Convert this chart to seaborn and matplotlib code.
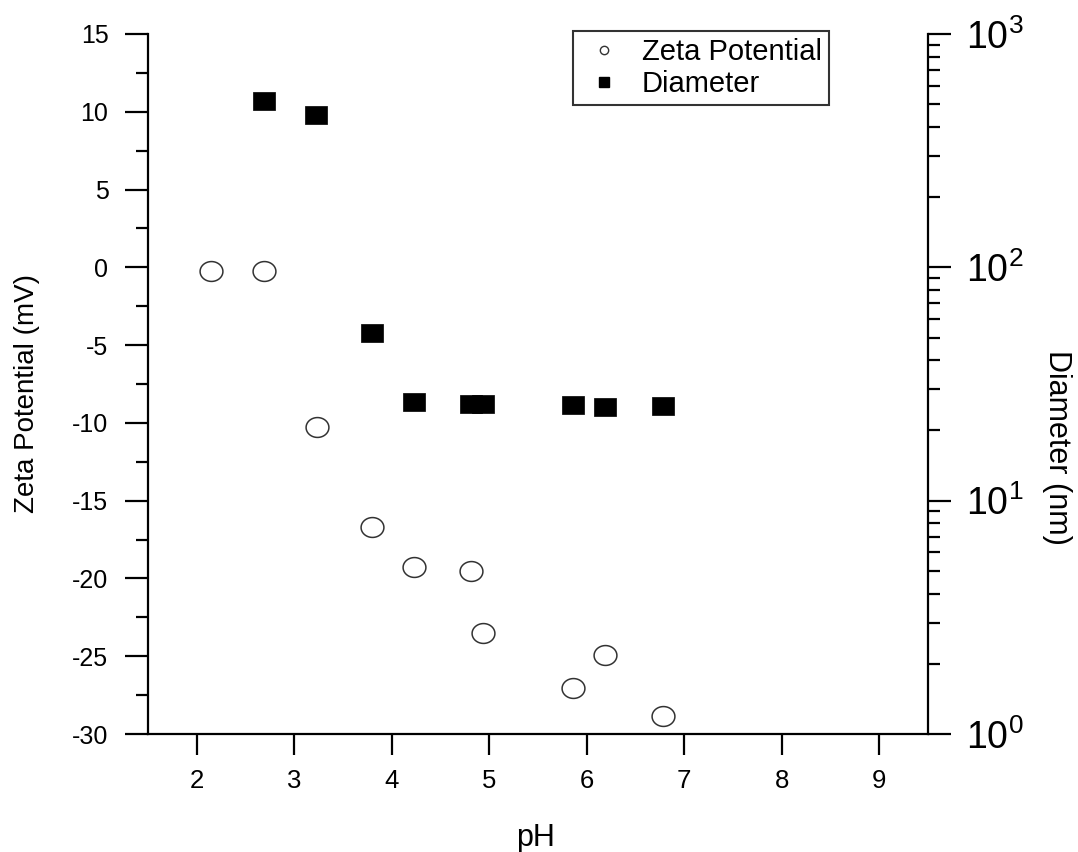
import numpy as np
import pandas as pd
import matplotlib
matplotlib.use("Agg")
import matplotlib.pyplot as plt
from matplotlib.path import Path
from matplotlib.lines import Line2D
from matplotlib.ticker import MultipleLocator, LogLocator, NullFormatter
import seaborn as sns

# ---- data ----
ph_zeta = [2.15, 2.69, 3.23, 3.80, 4.23, 4.81, 4.94, 5.86, 6.19, 6.78]
zeta_mv = [-0.24, -0.24, -10.26, -16.7, -19.26, -19.5, -23.5, -27.04, -24.92, -28.84]
ph_diam = [2.69, 3.22, 3.80, 4.23, 4.81, 4.94, 5.86, 6.19, 6.78]
diam_nm = [516, 450, 52.3, 26.5, 26.0, 26.0, 25.7, 25.2, 25.5]
x_ticks = [2, 3, 4, 5, 6, 7, 8, 9]
zeta_ticks = [15, 10, 5, 0, -5, -10, -15, -20, -25, -30]
diam_ticks = [1, 10, 100, 1000]
diam_tick_labels = [r"$\mathregular{10^{0}}$", r"$\mathregular{10^{1}}$",
                    r"$\mathregular{10^{2}}$", r"$\mathregular{10^{3}}$"]
series_names = ["Zeta Potential", "Diameter"]

sns.set_style("ticks")
plt.rcParams["font.family"] = ["Liberation Sans", "DejaVu Sans"]
plt.rcParams["mathtext.fontset"] = "custom"
plt.rcParams["mathtext.rm"] = "Liberation Sans"
plt.rcParams["axes.unicode_minus"] = False
for k in ("text.color", "axes.labelcolor", "xtick.color", "ytick.color", "xtick.labelcolor", "ytick.labelcolor"):
    plt.rcParams[k] = "black"

df_z = pd.DataFrame({"pH": ph_zeta, "zeta": zeta_mv})
df_d = pd.DataFrame({"pH": ph_diam, "diam": diam_nm})

# elliptical / rectangular markers as in the reference
t = np.linspace(0, 2 * np.pi, 60)
ell = Path(np.column_stack([np.cos(t), 0.87 * np.sin(t)]), closed=True)
rect = Path([(-1, -0.86), (1, -0.86), (1, 0.86), (-1, 0.86), (-1, -0.86)], closed=True)

fig = plt.figure(figsize=(10.78, 8.52), dpi=100)
ax = fig.add_axes([148 / 1078, 1 - 734 / 852, 780 / 1078, 700 / 852])
ax2 = ax.twinx()

sns.scatterplot(data=df_z, x="pH", y="zeta", ax=ax, marker=ell, s=270,
                facecolor="white", edgecolor="#333333", linewidth=1.1, zorder=3)
sns.scatterplot(data=df_d, x="pH", y="diam", ax=ax2, marker=rect, s=240,
                color="black", edgecolor="black", linewidth=0.5, zorder=3)

ax.set_xlim(1.5, 9.5)
ax.set_ylim(-30, 15)
ax2.set_yscale("log")
ax2.set_ylim(1, 1000)

ax.set_xticks(x_ticks)
ax.set_yticks(zeta_ticks)
ax.yaxis.set_minor_locator(MultipleLocator(2.5))
ax2.set_yticks(diam_ticks)
ax2.set_yticklabels(diam_tick_labels)
ax2.yaxis.set_minor_locator(LogLocator(base=10, subs=np.arange(2, 10), numticks=20))
ax2.yaxis.set_minor_formatter(NullFormatter())

for a in (ax, ax2):
    a.spines["top"].set_visible(False)
    for s in a.spines.values():
        s.set_linewidth(1.6)
        s.set_color("black")
ax.spines["right"].set_visible(False)
ax2.spines["left"].set_visible(False)
ax2.spines["bottom"].set_visible(False)

ax.tick_params(axis="y", which="major", direction="out", length=16.5, width=1.6,
               labelsize=18, pad=12, colors="black")
ax.tick_params(axis="y", which="minor", direction="out", length=8.5, width=1.6)
ax.tick_params(axis="x", which="major", direction="out", length=15, width=1.6,
               labelsize=18.5, pad=10, colors="black")
ax2.tick_params(axis="y", which="major", direction="out", length=16.5, width=1.6,
                labelsize=27, pad=11, colors="black")
ax2.tick_params(axis="y", which="minor", direction="out", length=8.5, width=1.6)

ax.set_xlabel("pH", fontsize=22)
ax.xaxis.set_label_coords(0.497, -0.149)
ax.xaxis.label.set_va("center")
ax.set_ylabel("Zeta Potential (mV)", fontsize=20)
ax.yaxis.set_label_coords(-0.155, 0.487)
ax.yaxis.label.set_va("center")
ax2.set_ylabel("Diameter (nm)", fontsize=22, rotation=-90)
ax2.yaxis.set_label_coords(1.165, 0.41)
ax2.yaxis.label.set_va("center")
ax2.yaxis.label.set_ha("center")

handles = [
    Line2D([], [], linestyle="none", marker="o", markersize=6, markerfacecolor="white",
           markeredgecolor="#333333", markeredgewidth=1),
    Line2D([], [], linestyle="none", marker="s", markersize=7, markerfacecolor="black",
           markeredgecolor="black"),
]
leg = ax2.legend(handles, series_names, loc="upper left", bbox_to_anchor=(0.545, 1.005),
                 fontsize=21, frameon=True, fancybox=False, borderpad=0.25,
                 handlelength=1.6, handletextpad=0.5, labelspacing=0.15,
                 borderaxespad=0)
leg.get_frame().set_edgecolor("black")
leg.get_frame().set_linewidth(1.5)

fig.savefig("out.png", dpi=100)
